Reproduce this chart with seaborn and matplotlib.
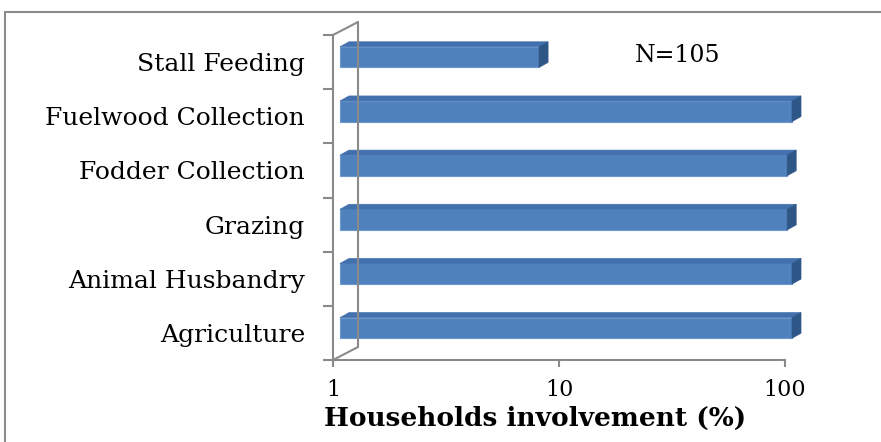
import matplotlib
matplotlib.use("Agg")
import matplotlib.pyplot as plt
import seaborn as sns
import pandas as pd
from matplotlib.patches import Polygon, Rectangle
from matplotlib.lines import Line2D
from matplotlib.ticker import FixedLocator, NullLocator, FixedFormatter
import matplotlib.transforms as mtrans

# data
activities = ["Stall Feeding", "Fuelwood Collection", "Fodder Collection",
              "Grazing", "Animal Husbandry", "Agriculture"]
involvement = [7.6, 100, 95.2, 95.2, 100, 100]
x_ticks = [1, 10, 100]
x_tick_labels = ["1", "10", "100"]

df = pd.DataFrame({"activity": activities, "pct": involvement})

sns.set_theme(style="white")
plt.rcParams["font.family"] = ["DejaVu Serif", "Liberation Serif"]
plt.rcParams["text.color"] = "black"
plt.rcParams["axes.labelcolor"] = "black"

DPI = 100
W, H = 881, 442
fig = plt.figure(figsize=(W / DPI, H / DPI), dpi=DPI)

# front plane of the plot area in pixels
left_px, right_px, top_px, bot_px = 333, 785, 35, 360
ax = fig.add_axes([left_px / W, 1 - bot_px / H,
                   (right_px - left_px) / W, (bot_px - top_px) / H])

front = "#4F81BD"
top_c = "#4271AE"
side_c = "#2E5687"
axis_c = "#8A8A8A"

sns.barplot(data=df, x="pct", y="activity", orient="h", color=front,
            width=0.38, saturation=1, ax=ax)
ax.set_xscale("log")
ax.set_xlim(1, 100)
ax.set_ylim(5.5, -0.5)

# bars sit a little behind the front plane
shift = mtrans.ScaledTranslation(7 / DPI, 5 / DPI, fig.dpi_scale_trans)
depth_x, depth_y = 9, 5
for p, val in zip(ax.patches, involvement):
    p.set_x(1)
    p.set_width(val - 1)
    p.set_transform(ax.transData + shift)
    p.set_edgecolor("#6C98CF")
    p.set_linewidth(0.8)
    p.set_clip_on(False)

fig.canvas.draw()
to_in = lambda pts: [(x / DPI, y / DPI) for x, y in pts]
for p in ax.patches:
    x0, y0 = p.get_x(), p.get_y()
    x1, y1 = x0 + p.get_width(), y0 + p.get_height()
    (dx0, dyA), (dx1, dyB) = ax.transData.transform([(x0, y0), (x1, y1)])
    dx0 += 7; dx1 += 7
    yt, yb = max(dyA, dyB) + 5, min(dyA, dyB) + 5
    topf = [(dx0, yt), (dx1, yt), (dx1 + depth_x, yt + depth_y), (dx0 + depth_x, yt + depth_y)]
    sidef = [(dx1, yb), (dx1, yt), (dx1 + depth_x, yt + depth_y), (dx1 + depth_x, yb + depth_y)]
    for pts, c in ((topf, top_c), (sidef, side_c)):
        fig.add_artist(Polygon(to_in(pts), closed=True, facecolor=c, edgecolor=c,
                               lw=0.5, transform=fig.dpi_scale_trans))

# 3D wall lines
wall_dx, wall_dy = 25, 13
fl, fb, ft = left_px, H - bot_px, H - top_px
for xs, ys in (([fl, fl + wall_dx], [ft, ft + wall_dy]),
               ([fl + wall_dx, fl + wall_dx], [ft + wall_dy, fb + wall_dy]),
               ([fl, fl + wall_dx], [fb, fb + wall_dy])):
    fig.add_artist(Line2D([x / DPI for x in xs], [y / DPI for y in ys], color=axis_c,
                          lw=1.5, transform=fig.dpi_scale_trans))

# axes styling
for s in ("top", "right"):
    ax.spines[s].set_visible(False)
for s in ("left", "bottom"):
    ax.spines[s].set_color(axis_c)
    ax.spines[s].set_linewidth(1.5)

ax.xaxis.set_major_locator(FixedLocator(x_ticks))
ax.xaxis.set_major_formatter(FixedFormatter(x_tick_labels))
ax.xaxis.set_minor_locator(NullLocator())
ax.tick_params(axis="x", which="major", bottom=True, length=5, width=1.5,
               color=axis_c, pad=9, labelsize=16, labelcolor="black")

ax.yaxis.set_minor_locator(FixedLocator([i - 0.5 for i in range(len(activities) + 1)]))
ax.tick_params(axis="y", which="major", left=True, length=0, pad=20,
               labelsize=18, labelcolor="black")
ax.tick_params(axis="y", which="minor", left=True, length=7, width=1.5, color=axis_c)

ax.set_ylabel("")
ax.set_xlabel("Households involvement (%)", fontsize=19, fontweight="bold", color="black")
ax.xaxis.set_label_coords((535 - left_px) / (right_px - left_px), -0.142)

fig.text(678 / W, 1 - 56 / H, "N=105", fontsize=17, ha="center", va="center", color="black")

# chart frame
fig.add_artist(Rectangle((5 / W, -0.2), 1.5, 1.2 - 12 / H, fill=False,
                         edgecolor="#8C8C8C", lw=1.5, transform=fig.transFigure))

fig.savefig("out.png", dpi=DPI, facecolor="white")
